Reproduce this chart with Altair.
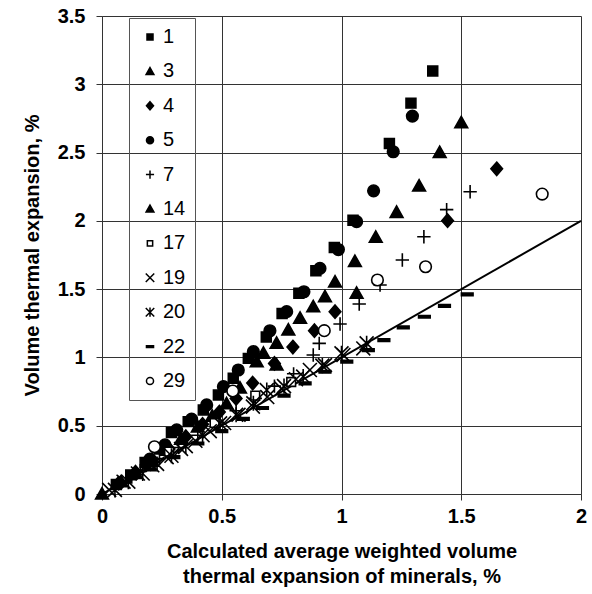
import altair as alt
import pandas as pd

# ---- data ----
series_order = ["1", "3", "4", "5", "7", "14", "17", "19", "20", "22", "29"]

x1 = [0.06, 0.12, 0.18, 0.24, 0.29, 0.36, 0.423, 0.486, 0.548, 0.611, 0.686, 0.752, 0.822, 0.893, 0.970, 1.048, 1.200, 1.290, 1.381]
y1 = [0.07, 0.14, 0.23, 0.33, 0.45, 0.53, 0.615, 0.725, 0.847, 0.993, 1.150, 1.322, 1.470, 1.635, 1.805, 2.005, 2.567, 2.862, 3.097]

x3 = [0.674, 0.729, 0.778, 0.827, 0.882, 0.931, 0.973, 1.056, 1.143, 1.230, 1.324, 1.410, 1.500]
y3 = [1.030, 1.103, 1.201, 1.286, 1.371, 1.444, 1.552, 1.703, 1.879, 2.062, 2.255, 2.501, 2.718]

x4 = [0.07, 0.14, 0.21, 0.28, 0.35, 0.42, 0.49, 0.56, 0.629, 0.72, 0.797, 0.887, 0.973, 1.443, 1.648]
y4 = [0.08, 0.16, 0.25, 0.33, 0.42, 0.51, 0.60, 0.70, 0.812, 0.956, 1.076, 1.196, 1.335, 2.001, 2.381]

x5 = [0.200, 0.263, 0.312, 0.374, 0.437, 0.507, 0.569, 0.632, 0.701, 0.771, 0.843, 0.910, 0.987, 1.063, 1.134, 1.216, 1.296]
y5 = [0.255, 0.360, 0.470, 0.548, 0.652, 0.786, 0.908, 1.042, 1.195, 1.335, 1.481, 1.652, 1.790, 1.994, 2.220, 2.506, 2.767]

x7 = [0.08, 0.16, 0.24, 0.32, 0.40, 0.48, 0.56, 0.64, 0.72, 0.80, 0.882, 0.907, 0.994, 1.074, 1.161, 1.254, 1.344, 1.439, 1.537]
y7 = [0.09, 0.17, 0.26, 0.34, 0.43, 0.52, 0.61, 0.70, 0.79, 0.88, 1.018, 1.103, 1.245, 1.391, 1.530, 1.713, 1.884, 2.082, 2.213]

x14 = [0.0, 0.08, 0.14, 0.21, 0.27, 0.33, 0.40, 0.46, 0.52, 0.576, 0.646, 0.729, 1.063]
y14 = [0.0, 0.09, 0.15, 0.24, 0.32, 0.40, 0.49, 0.57, 0.66, 0.776, 0.969, 0.944, 1.469]

x17 = [0.28, 0.47, 0.64, 0.79]
y17 = [0.31, 0.52, 0.72, 0.82]

x19 = [0.03, 0.09, 0.15, 0.21, 0.27, 0.33, 0.39, 0.45, 0.51, 0.57, 0.63, 0.69, 0.75, 0.81, 0.868, 0.931, 1.008, 1.091]
y19 = [0.03, 0.09, 0.15, 0.21, 0.27, 0.33, 0.39, 0.46, 0.52, 0.58, 0.64, 0.71, 0.77, 0.84, 0.908, 0.944, 1.018, 1.066]

x20 = [0.054, 0.11, 0.17, 0.23, 0.29, 0.35, 0.42, 0.493, 0.56, 0.632, 0.688, 0.76, 0.84, 0.92, 1.0, 1.105]
y20 = [0.03, 0.09, 0.15, 0.22, 0.28, 0.35, 0.43, 0.517, 0.58, 0.664, 0.761, 0.79, 0.86, 0.94, 1.03, 1.103]

x22 = [0.10, 0.20, 0.30, 0.40, 0.50, 0.59, 0.67, 0.76, 0.848, 0.931, 1.022, 1.112, 1.177, 1.258, 1.346, 1.430, 1.525]
y22 = [0.09, 0.18, 0.27, 0.37, 0.46, 0.55, 0.63, 0.72, 0.810, 0.895, 0.969, 1.054, 1.127, 1.220, 1.298, 1.378, 1.462]

x29 = [0.219, 0.546, 0.928, 1.150, 1.351, 1.838]
y29 = [0.346, 0.754, 1.196, 1.567, 1.664, 2.196]

line_x = [0, 2]
line_y = [0, 2]

x_ticks = [0, 0.5, 1, 1.5, 2]
y_ticks = [0, 0.5, 1, 1.5, 2, 2.5, 3, 3.5]

# ---- build table ----
all_series = {
    "1": (x1, y1), "3": (x3, y3), "4": (x4, y4), "5": (x5, y5), "7": (x7, y7),
    "14": (x14, y14), "17": (x17, y17), "19": (x19, y19), "20": (x20, y20),
    "22": (x22, y22), "29": (x29, y29),
}
rows = []
for s in series_order:
    xs, ys = all_series[s]
    for a, b in zip(xs, ys):
        rows.append({"series": s, "x": a, "y": b})
df = pd.DataFrame(rows)
line_df = pd.DataFrame({"x": line_x, "y": line_y})

SQUARE = "M-0.85,-0.85L0.85,-0.85L0.85,0.85L-0.85,0.85Z"
TRI = "M0,-1.1L1.1,0.85L-1.1,0.85Z"
DIAM = "M0,-1.15L1.0,0L0,1.15L-1.0,0Z"
PLUS = "M-1.15,0L1.15,0M0,-1.15L0,1.15"
XS = "M-1.2,-1.2L1.2,1.2M-1.2,1.2L1.2,-1.2"
AST = "M-1.2,-1.2L1.2,1.2M-1.2,1.2L1.2,-1.2M0,-1.3L0,1.3"
DASH = "M-1,-0.22L1,-0.22L1,0.22L-1,0.22Z"
OSQ = "M-0.75,-0.75L0.75,-0.75L0.75,0.75L-0.75,0.75Z"

shapes = [SQUARE, TRI, DIAM, "circle", PLUS, TRI, OSQ, XS, AST, DASH, "circle"]
fills = ["black", "black", "black", "black", "black", "black",
         "white", "black", "black", "black", "white"]
strokes = ["black"] * len(series_order)

FONT = "Liberation Sans"

xscale = alt.Scale(domain=[0, 2], nice=False)
yscale = alt.Scale(domain=[0, 3.5], nice=False)

legend = alt.Legend(
    title=None, orient="none", legendX=27, legendY=2, direction="vertical",
    strokeColor="#555555", padding=9, symbolOffset=2, labelOffset=3,
    rowPadding=14.4, labelFont=FONT, labelFontSize=20, labelColor="black",
    symbolSize=50, symbolStrokeWidth=1.5,
)

points = alt.Chart(df).mark_point(
    filled=False, strokeWidth=1.6, size=135, opacity=1
).encode(
    x=alt.X("x:Q", scale=xscale,
            axis=alt.Axis(values=x_ticks, format="~g",
                          title=["Calculated average weighted  volume",
                                 "thermal expansion of minerals, %"])),
    y=alt.Y("y:Q", scale=yscale,
            axis=alt.Axis(values=y_ticks, format="~g",
                          title="Volume thermal expansion, %")),
    shape=alt.Shape("series:N", scale=alt.Scale(domain=series_order, range=shapes),
                    legend=legend),
    fill=alt.Fill("series:N", scale=alt.Scale(domain=series_order, range=fills),
                  legend=legend),
    stroke=alt.Stroke("series:N", scale=alt.Scale(domain=series_order, range=strokes),
                      legend=legend),
)

line = alt.Chart(line_df).mark_line(color="black", strokeWidth=2).encode(
    x=alt.X("x:Q", scale=xscale),
    y=alt.Y("y:Q", scale=yscale),
)

chart = alt.layer(line, points).properties(
    width=479, height=478,
    padding={"left": 102, "top": 16, "right": 11, "bottom": 100},
    autosize=alt.AutoSizeParams(type="none"),
).configure_view(strokeWidth=0).configure_axis(
    labelFont=FONT, labelFontSize=20, labelFontWeight="bold", labelColor="black",
    titleFont=FONT, titleFontSize=20, titleFontWeight="bold", titleColor="black",
    gridColor="#333333", gridOpacity=1, gridWidth=1,
    domainColor="#333333", tickColor="#333333", tickSize=6,
    labelFlush=False,
).configure_axisX(
    labelPadding=6, titlePadding=15, titleLineHeight=25,
).configure_axisY(
    labelPadding=11, titlePadding=15,
)

chart.save("out.html", embed_options={"renderer": "svg", "actions": False})
